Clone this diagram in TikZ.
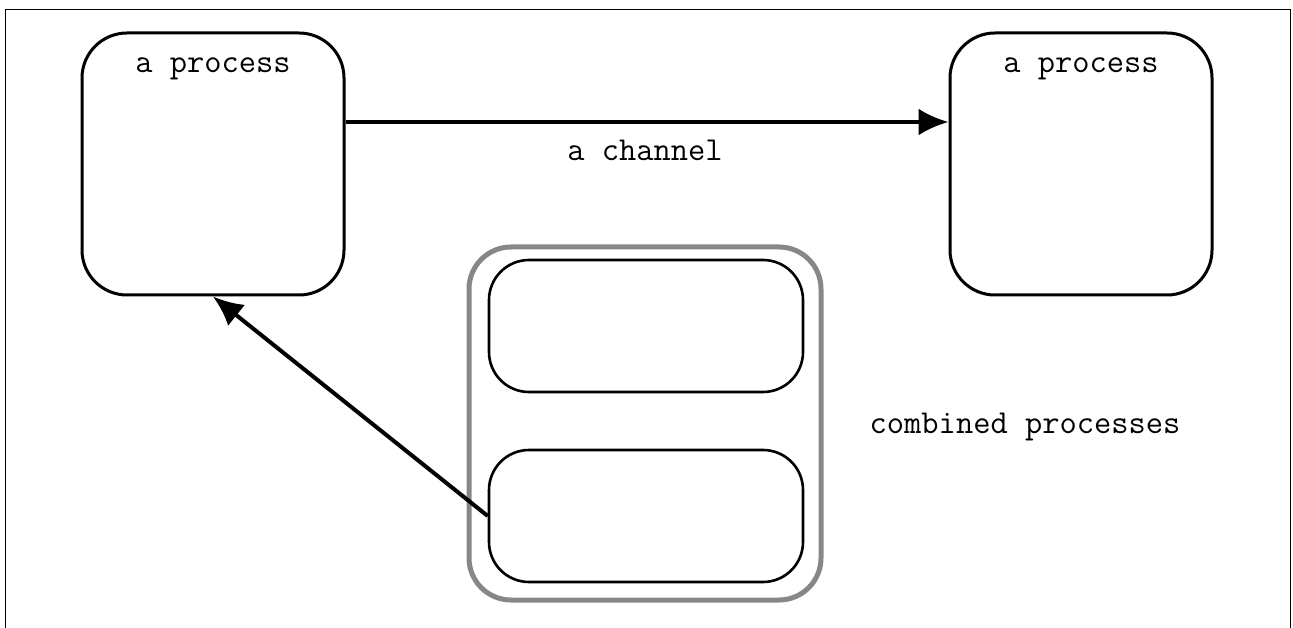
\documentclass[tikz,border=0pt]{standalone}
\usepackage{fontspec}
\usetikzlibrary{arrows.meta, positioning}
\definecolor{boxgray}{HTML}{878787}
\tikzset{
  proc/.style={draw, line width=3pt, rounded corners=45pt, minimum width=262pt, minimum height=262pt},
  subproc/.style={draw, line width=2.6pt, rounded corners=40pt, minimum width=314pt, minimum height=132pt},
  group/.style={draw=boxgray, line width=5pt, rounded corners=42pt, minimum width=352pt, minimum height=353pt},
  lbl/.style={font=\ttfamily\fontsize{33.5}{38}\selectfont, anchor=base, inner sep=0pt},
  chan/.style={line width=4pt, -{Latex[length=30pt, width=27pt]}}
}
\begin{document}
\begin{tikzpicture}[x=1pt, y=-1pt]
\useasboundingbox (0,0) rectangle (1293,628);
% frame
\draw[line width=1.5pt] (5.5,628) -- (5.5,9.5) -- (1290.5,9.5) -- (1290.5,628);
% two processes
\node[proc] (A) at (213,164) {};
\node[proc] (B) at (1081,164) {};
\node[lbl] (Alabel) at (213,73) {a process};
\node[lbl] (Blabel) at (1081,73) {a process};
% combined processes
\node[group] (G) at (645,423.5) {};
\node[subproc] (C) at (646,326) {};
\node[subproc] (D) at (646,516) {};
\node[lbl] (Glabel) at (1025,433) {combined processes};
% channels
\draw[chan] (A.east|-0,122) -- (B.west|-0,122);
\node[lbl] (chanlabel) at (645,161) {a channel};
\draw[chan] (D.west) -- (A.south);
\end{tikzpicture}
\end{document}
